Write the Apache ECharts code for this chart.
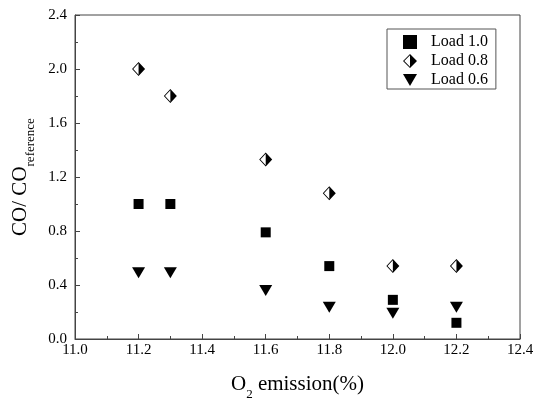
<!DOCTYPE html>
<html><head><meta charset="utf-8">
<script src="https://cdn.jsdelivr.net/npm/echarts@6/dist/echarts.min.js"></script>
<style>html,body{margin:0;padding:0;background:#fff}#c{width:544px;height:406px}</style>
</head><body><div id="c"></div>
<script>
const o2 = [11.2, 11.3, 11.6, 11.8, 12.0, 12.2];
const load10 = [1.0, 1.0, 0.79, 0.54, 0.29, 0.12];
const load08 = [2.0, 1.8, 1.33, 1.08, 0.54, 0.54];
const load06 = [0.49, 0.49, 0.36, 0.235, 0.19, 0.235];
const seriesNames = ['Load 1.0', 'Load 0.8', 'Load 0.6'];

const halfDiamond = 'path://M10,0 L20,10 L10,20 Z M10,0 L0,10 L10,20 Z M10,1.8 L10,18.2 L1.8,10 Z';
const downTri = 'path://M0,0 L20,0 L10,17 Z';
const font = '"Liberation Serif", "Times New Roman", serif';
const pair = (ys) => o2.map((x, i) => [x, ys[i]]);

const chart = echarts.init(document.getElementById('c'));
chart.setOption({
  animation: false,
  backgroundColor: '#fff',
  grid: { left: 75, right: 24, top: 15, bottom: 64, show: true, borderColor: '#444', borderWidth: 1 },
  legend: {
    orient: 'vertical', left: 387, top: 29,
    borderColor: '#555', borderWidth: 1,
    padding: [5, 8, 1, 16], itemGap: 3, itemWidth: 14, itemHeight: 14,
    textStyle: { fontFamily: font, fontSize: 16, color: '#000', padding: [0, 0, 0, 9] },
    data: [
      { name: seriesNames[0], icon: 'rect', itemStyle: { color: '#000' } },
      { name: seriesNames[1], icon: halfDiamond, itemStyle: { color: '#000' } },
      { name: seriesNames[2], icon: downTri, itemStyle: { color: '#000' } }
    ]
  },
  xAxis: {
    type: 'value', min: 11.0, max: 12.4, interval: 0.2,
    name: '{m|O}{s|2}{m| emission(%)}', nameLocation: 'middle', nameGap: 30,
    nameTextStyle: { rich: {
      m: { fontFamily: font, fontSize: 21, color: '#000', lineHeight: 26, verticalAlign: 'bottom' },
      s: { fontFamily: font, fontSize: 13, color: '#000', lineHeight: 18, verticalAlign: 'bottom', padding: [0, 0, -6, 0] } } },
    axisLine: { lineStyle: { color: '#444', width: 1 } },
    axisTick: { inside: true, length: 5, lineStyle: { color: '#444' } },
    minorTick: { show: true, splitNumber: 2, length: 3, lineStyle: { color: '#444' } },
    splitLine: { show: false },
    axisLabel: { fontFamily: font, fontSize: 15, color: '#000', margin: 4, formatter: v => v.toFixed(1) }
  },
  yAxis: {
    type: 'value', min: 0, max: 2.4, interval: 0.4,
    name: '{m|CO/ CO}{s|reference}', nameLocation: 'middle', nameGap: 44, nameRotate: 90,
    nameTextStyle: { rich: {
      m: { fontFamily: font, fontSize: 21, color: '#000', lineHeight: 26, verticalAlign: 'bottom' },
      s: { fontFamily: font, fontSize: 13, color: '#000', lineHeight: 18, verticalAlign: 'bottom', padding: [0, 0, -6, 0] } } },
    axisLine: { lineStyle: { color: '#444', width: 1 } },
    axisTick: { inside: true, length: 5, lineStyle: { color: '#444' } },
    minorTick: { show: true, splitNumber: 2, length: 3, lineStyle: { color: '#444' } },
    splitLine: { show: false },
    axisLabel: { fontFamily: font, fontSize: 15, color: '#000', margin: 8, formatter: v => v.toFixed(1) }
  },
  series: [
    { name: seriesNames[0], type: 'scatter', data: pair(load10), symbol: 'rect', symbolSize: 10, itemStyle: { color: '#000', opacity: 1 } },
    { name: seriesNames[1], type: 'scatter', data: pair(load08), symbol: halfDiamond, symbolSize: [13, 14], itemStyle: { color: '#000', opacity: 1 } },
    { name: seriesNames[2], type: 'scatter', data: pair(load06), symbol: downTri, symbolSize: [13, 11], itemStyle: { color: '#000', opacity: 1 } }
  ]
});
</script></body></html>
